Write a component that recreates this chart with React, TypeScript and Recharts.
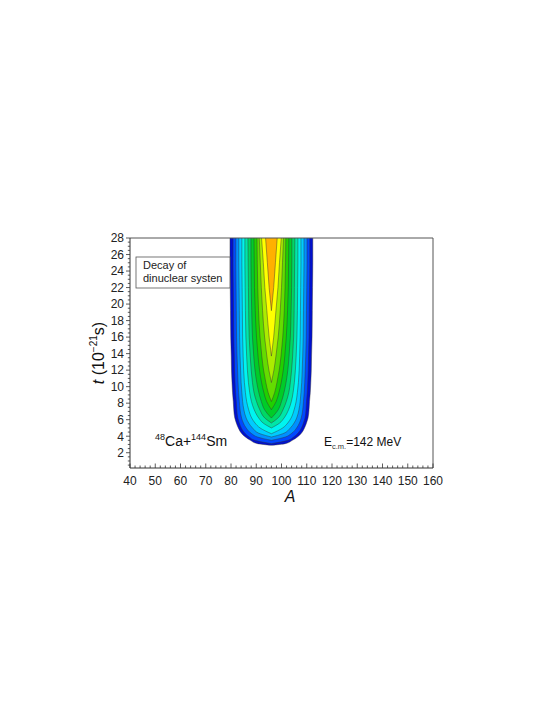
import React from 'react';
import { ComposedChart, Area, XAxis, YAxis, ReferenceLine } from 'recharts';

// ---- data ----
const CENTER_A = 96; // symmetry axis of the distribution (mass number)
const T_GRID = [2.9, 3.1, 3.5, 3.9, 4.3, 5.0, 5.6, 6.2, 7.2, 8.2, 9.3, 10.5, 12, 13.7, 16, 19.2, 22, 25, 28];

// half-widths (in A) of each contour line, starting at its tip on T_GRID (outermost first)
const HW_0 = [0, 5.5, 8.3, 10.3, 11.7, 13.1, 13.9, 14.5, 14.9, 15.1, 15.4, 15.6, 15.8, 15.9, 16.1, 16.2, 16.3, 16.4, 16.4];
const HW_1 = [0, 6.5, 8.8, 10.3, 11.9, 12.7, 13.3, 13.7, 13.9, 14.2, 14.4, 14.6, 14.7, 14.9, 15.0, 15.1, 15.2, 15.2];
const HW_2 = [0, 5.5, 7.8, 10.0, 11.1, 11.8, 12.4, 12.7, 13.0, 13.2, 13.4, 13.6, 13.8, 13.9, 14.0, 14.1, 14.1];
const HW_3 = [0, 4.5, 7.5, 9.0, 10.0, 10.9, 11.4, 11.7, 12.0, 12.2, 12.4, 12.6, 12.7, 12.8, 12.9, 12.9];
const HW_4 = [0, 4.5, 6.5, 7.8, 9.0, 9.8, 10.3, 10.7, 11.0, 11.2, 11.4, 11.5, 11.6, 11.7, 11.7];
const HW_5 = [0, 3.3, 5.0, 6.8, 7.9, 8.6, 9.1, 9.5, 9.8, 10.1, 10.3, 10.4, 10.5, 10.5];
const HW_6 = [0, 2.6, 4.6, 5.9, 6.9, 7.5, 8.0, 8.4, 8.8, 9.0, 9.1, 9.2, 9.3];
const HW_7 = [0, 2.7, 4.0, 5.0, 5.8, 6.5, 7.0, 7.5, 7.8, 8.0, 8.1, 8.1];
const HW_8 = [0, 1.9, 3.0, 3.9, 4.7, 5.3, 5.9, 6.4, 6.7, 6.8, 6.9];
const HW_9 = [0, 1.3, 2.2, 3.1, 3.8, 4.5, 5.1, 5.4, 5.6, 5.7];
const HW_10 = [0, 1.0, 1.8, 2.7, 3.5, 4.0, 4.4, 4.8];
const HW_11 = [0, 0.9, 1.8, 2.6, 3.2, 3.9];
const HW_12 = [0, 0.9, 1.6, 2.3];

const CONTOURS = [HW_0, HW_1, HW_2, HW_3, HW_4, HW_5, HW_6, HW_7, HW_8, HW_9, HW_10, HW_11, HW_12];
const BAND_COLORS = [
  '#0010d0', '#0048ff', '#0090ff', '#00ccff', '#00f4f0', '#00e6a8', '#00d864',
  '#00cc28', '#20d000', '#64dc00', '#acec00', '#ffff00', '#ffb000',
];

const X_MAJOR = [40, 50, 60, 70, 80, 90, 100, 110, 120, 130, 140, 150, 160];
const Y_MAJOR = [2, 4, 6, 8, 10, 12, 14, 16, 18, 20, 22, 24, 26, 28];

const X_TICKS: number[] = [];
for (let v = 40; v <= 160; v += 2) X_TICKS.push(v);
const Y_TICKS: number[] = [];
for (let v = 0.5; v <= 28.001; v += 0.5) Y_TICKS.push(Math.round(v * 10) / 10);

const contourData = (hw: number[]) => {
  const start = T_GRID.length - hw.length;
  return hw.map((h, k) => ({ t: T_GRID[start + k], range: [CENTER_A - h, CENTER_A + h] })).reverse();
};

const FONT = 'Arial, "Liberation Sans", Helvetica, sans-serif';

const XTick = (props: any) => {
  const { x, y, payload } = props;
  const v = payload.value;
  const major = X_MAJOR.includes(v);
  return (
    <g>
      <line x1={x} x2={x} y1={y} y2={y - (major ? 4.5 : 2.5)} stroke="#333" strokeWidth={0.8} />
      {major && (
        <text x={x} y={y + 17} textAnchor="middle" fontSize={12} fill="#222" fontFamily={FONT}>
          {v}
        </text>
      )}
    </g>
  );
};

const YTick = (props: any) => {
  const { x, y, payload } = props;
  const v = payload.value;
  const major = Y_MAJOR.includes(v);
  return (
    <g>
      <line x1={x} x2={x - (major ? 4 : 2.2)} y1={y} y2={y} stroke="#333" strokeWidth={0.8} />
      {major && (
        <text x={x - 6} y={y + 4.3} textAnchor="end" fontSize={12} fill="#222" fontFamily={FONT}>
          {v}
        </text>
      )}
    </g>
  );
};

export default function App() {
  return (
    <div style={{ position: 'relative', width: 536, height: 520 }}>
      <ComposedChart
        width={536}
        height={520}
        layout="vertical"
        margin={{ top: 230, right: 111, bottom: 20, left: 62 }}
      >
        <XAxis
          type="number"
          dataKey="range"
          domain={[40, 160]}
          allowDataOverflow
          ticks={X_TICKS}
          interval={0}
          tick={<XTick />}
          tickLine={false}
          tickSize={0}
          tickMargin={0}
          height={40}
          axisLine={{ stroke: '#333', strokeWidth: 1 }}
        />
        <YAxis
          type="number"
          dataKey="t"
          domain={[0.15, 28]}
          allowDataOverflow
          reversed
          ticks={Y_TICKS}
          interval={0}
          tick={<YTick />}
          tickLine={false}
          tickSize={0}
          tickMargin={0}
          width={60}
          axisLine={{ stroke: '#333', strokeWidth: 1 }}
        />
        {CONTOURS.map((hw, i) => (
          <Area
            key={i}
            data={contourData(hw)}
            dataKey="range"
            type="monotone"
            fill={BAND_COLORS[i]}
            fillOpacity={1}
            stroke="#333"
            strokeOpacity={0.75}
            strokeWidth={0.6}
            dot={false}
            activeDot={false}
            isAnimationActive={false}
          />
        ))}
        <ReferenceLine x={160} stroke="#555" strokeWidth={1} />
        <ReferenceLine y={28} stroke="#555" strokeWidth={1} />
      </ComposedChart>
      <svg
        width={536}
        height={520}
        style={{ position: 'absolute', left: 0, top: 0, pointerEvents: 'none' }}
        fontFamily={FONT}
      >
        <rect x={128} y={249} width={94} height={31} fill="#fff" stroke="#555" strokeWidth={0.8} />
        <text x={135} y={261} fontSize={11} fill="#222">Decay of</text>
        <text x={135} y={274} fontSize={11} fill="#222">dinuclear systen</text>

        <text x={147} y={438} fontSize={14} fill="#111">
          <tspan fontSize={9} dy={-6} fill="#111">48</tspan>
          <tspan dy={6} fill="#111">Ca+</tspan>
          <tspan fontSize={9} dy={-6} fill="#111">144</tspan>
          <tspan dy={6} fill="#111">Sm</tspan>
        </text>

        <text x={316} y={437.5} fontSize={12} fill="#111">
          <tspan fill="#111">E</tspan>
          <tspan fontSize={7.5} dy={3} fill="#333">c.m.</tspan>
          <tspan dy={-3} fill="#111">=142 MeV</tspan>
        </text>

        <text x={282} y={494} fontSize={16} fontStyle="italic" textAnchor="middle" fill="#111">A</text>

        <text
          x={96}
          y={345}
          fontSize={16}
          textAnchor="middle"
          fill="#111"
          transform="rotate(-90, 96, 345)"
        >
          <tspan fontStyle="italic">t</tspan>
          <tspan> (10</tspan>
          <tspan fontSize={10} dy={-7}>−21</tspan>
          <tspan dy={7}>s)</tspan>
        </text>
      </svg>
    </div>
  );
}
